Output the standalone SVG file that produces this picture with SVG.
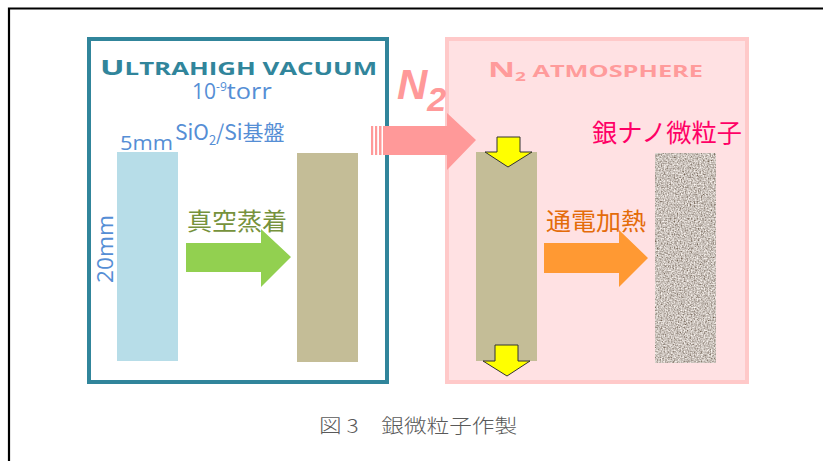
<svg xmlns="http://www.w3.org/2000/svg" width="823" height="461" viewBox="0 0 823 461">
<style>
.cjk{font-family:"Noto Sans CJK JP","Noto Sans",sans-serif}
.deco{font-family:"Open Sans","Liberation Sans",sans-serif}
.yel{fill:#FFFF00;stroke:#333;stroke-width:1}
</style>
<defs>
<filter id="noise" x="0" y="0" width="1" height="1">
<feTurbulence type="fractalNoise" baseFrequency="0.7" numOctaves="2" seed="3" result="t"/>
<feColorMatrix in="t" type="matrix" values="1.2 0 0 0 -0.01  1.2 0 0 0 -0.06  1.2 0 0 0 -0.1  0 0 0 0 1" result="n"/>
<feComposite in="n" in2="SourceGraphic" operator="in"/>
</filter>
</defs>
<rect width="823" height="461" fill="#fff"/>
<path d="M9,461 V8.5 H823" fill="none" stroke="#000" stroke-width="2.2"/>

<g id="vacuum-chamber">
<rect x="89" y="39" width="298" height="343" fill="#fff" stroke="#31859B" stroke-width="4"/>
<text x="100" y="75" class="deco" font-size="17.5" font-weight="bold" fill="#31859B" textLength="277" lengthAdjust="spacingAndGlyphs"><tspan font-size="22">U</tspan>LTRAHIGH VACUUM</text>
<text x="192" y="99" class="deco" font-size="21" fill="#558ED5">10<tspan font-size="12" dy="-8">-9</tspan><tspan dy="8" textLength="45" lengthAdjust="spacingAndGlyphs">torr</tspan></text>
</g>

<g id="substrate">
<rect x="117" y="152" width="61" height="209" fill="#B7DDE8"/>
<text x="120" y="150" class="deco" font-size="20" fill="#558ED5" textLength="53" lengthAdjust="spacingAndGlyphs">5mm</text>
<text x="175" y="140" class="cjk" font-size="21" fill="#558ED5">SiO<tspan font-size="13" dy="5">2</tspan><tspan dy="-5">/Si基盤</tspan></text>
<text transform="translate(113,249) rotate(-90)" text-anchor="middle" class="deco" font-size="21" fill="#558ED5" textLength="68" lengthAdjust="spacingAndGlyphs">20mm</text>
</g>

<g id="deposited-film">
<rect x="297" y="153" width="61" height="209" fill="#C4BD97"/>
</g>

<g id="n2-box">
<rect x="447" y="39" width="300" height="343" fill="#FFE1E3" stroke="#FFC9C9" stroke-width="4"/>
<text x="488" y="77" class="deco" font-size="16" font-weight="bold" fill="#FF9B9B" textLength="215" lengthAdjust="spacingAndGlyphs"><tspan font-size="21">N</tspan><tspan font-size="12" dy="4">2</tspan><tspan dy="-4"> ATMOSPHERE</tspan></text>
</g>

<g id="film-heated">
<rect x="476" y="152" width="61" height="209" fill="#C4BD97"/>
</g>

<g id="nanoparticles">
<rect x="655" y="153" width="61" height="210" fill="#A09488" filter="url(#noise)"/>
<text x="592" y="142" class="cjk" font-size="25" fill="#FF0066" textLength="150" lengthAdjust="spacingAndGlyphs">銀ナノ微粒子</text>
</g>

<g id="connectors">
<g id="arrow-deposition">
<polygon points="186,243 261,243 261,229 291,257 261,287 261,272 186,272" fill="#92D050"/>
<text x="187" y="230" class="cjk" font-size="24" fill="#76923C" textLength="100" lengthAdjust="spacingAndGlyphs">真空蒸着</text>
</g>
<g id="arrow-n2">
<polygon points="383,126 447,126 447,113 476,140 447,170 447,155 383,155" fill="#FF9999"/>
<rect x="371" y="126" width="2.2" height="29" fill="#FF9999"/>
<rect x="375" y="126" width="2.2" height="29" fill="#FF9999"/>
<rect x="379" y="126" width="2.5" height="29" fill="#FF9999"/>
<text x="397" y="99" font-family="Liberation Sans,sans-serif" font-size="42" font-weight="bold" font-style="italic" fill="#FF9999">N<tspan font-size="34" dy="12">2</tspan></text>
</g>
<g id="arrow-heating">
<polygon points="544,243 619,243 619,230 648,258 619,287 619,273 544,273" fill="#FF9933"/>
<text x="546" y="230" class="cjk" font-size="24" fill="#E46C0A" textLength="100" lengthAdjust="spacingAndGlyphs">通電加熱</text>
</g>
<polygon class="yel" points="497,137 520,137 520,152 532,152 508,167 485,152 497,152"/>
<polygon class="yel" points="495,345 518,345 518,361 530,361 507,376 483,361 495,361"/>
</g>

<text x="319" y="433" class="cjk" font-size="19" font-weight="300" fill="#595959" textLength="198" lengthAdjust="spacingAndGlyphs">図 3　銀微粒子作製</text>
</svg>
